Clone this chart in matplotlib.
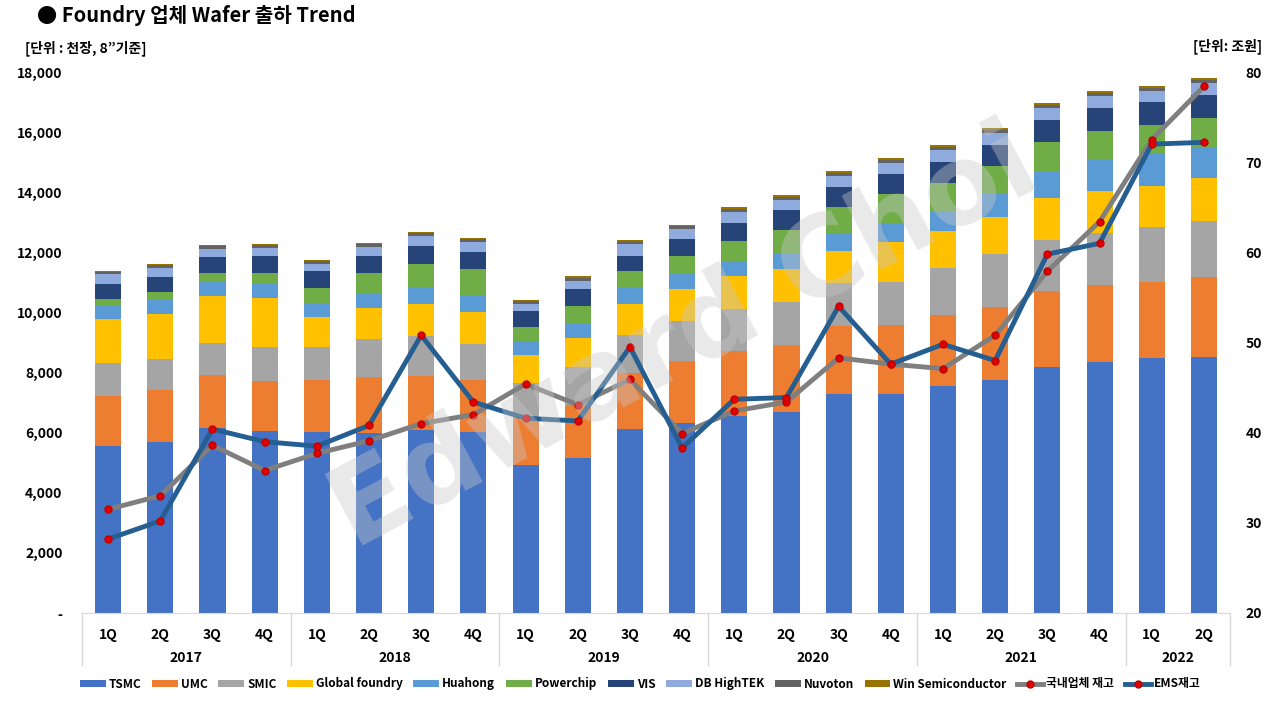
import matplotlib
matplotlib.use("Agg")
import matplotlib.pyplot as plt
from matplotlib.lines import Line2D
from matplotlib.patches import Patch
import numpy as np

plt.rcParams['font.family'] = ['Noto Sans CJK KR', 'DejaVu Sans']

# quarters 2017 1Q ~ 2022 2Q
quarters = ["1Q", "2Q", "3Q", "4Q"] * 5 + ["1Q", "2Q"]
years = ["2017", "2018", "2019", "2020", "2021", "2022"]
year_counts = [4, 4, 4, 4, 4, 2]

# wafer shipments, thousand sheets (8" equivalent)
tsmc = [5556, 5689, 6155, 6055, 6033, 6000, 6088, 6012, 4924, 5168, 6122,
        6332, 6564, 6697, 7296, 7296, 7552, 7752, 8191, 8347, 8487, 8524]
umc = [1674, 1730, 1774, 1664, 1719, 1863, 1797, 1740, 1553, 1752, 1852,
       2052, 2163, 2229, 2263, 2296, 2373, 2435, 2519, 2566, 2522, 2661]
smic = [1088, 1032, 1043, 1131, 1098, 1253, 1341, 1198, 1186, 1254, 1275,
        1331, 1387, 1421, 1420, 1430, 1564, 1760, 1700, 1723, 1830, 1854]
gf = [1463, 1497, 1575, 1630, 1009, 1031, 1054, 1064, 921, 986, 1031,
      1075, 1108, 1098, 1075, 1331, 1230, 1235, 1400, 1401, 1364, 1437]
huahong = [433, 466, 465, 489, 444, 490, 533, 533, 432, 478, 533,
           489, 456, 522, 589, 632, 655, 762, 882, 1034, 1071, 1024]
powerchip = [233, 266, 300, 343, 510, 675, 798, 898, 499, 576, 577,
             609, 709, 775, 875, 955, 942, 924, 975, 962, 962, 972]
vis = [509, 499, 532, 565, 577, 565, 610, 576, 533, 555, 498,
       555, 598, 676, 665, 666, 699, 702, 735, 772, 762, 762]
dbhitek = [312, 310, 277, 267, 232, 300, 322, 322, 243, 287, 378,
           333, 356, 333, 356, 376, 399, 416, 416, 406, 379, 402]
nuvoton = [88, 78, 89, 89, 89, 89, 89, 89, 79, 89, 88,
           89, 100, 100, 111, 100, 100, 83, 83, 83, 94, 97]
winsemi = [34, 44, 44, 44, 44, 44, 44, 44, 44, 56, 45,
           44, 56, 56, 55, 56, 56, 70, 70, 70, 72, 57]

# inventories, trillion won (right axis)
domestic_inv = [31.5, 33.0, 38.6, 35.8, 37.7, 39.1, 41.0, 42.0, 45.4, 43.1, 45.9,
                39.9, 42.4, 43.4, 48.3, 47.6, 47.1, 50.8, 57.9, 63.4, 72.5, 78.4]
ems_inv = [28.2, 30.2, 40.4, 39.0, 38.5, 40.8, 50.8, 43.4, 41.6, 41.3, 49.5,
           38.3, 43.7, 43.9, 54.0, 47.6, 49.8, 48.0, 59.8, 61.0, 72.0, 72.2]

series = [
    ("TSMC", tsmc, "#4472C4"),
    ("UMC", umc, "#ED7D31"),
    ("SMIC", smic, "#A5A5A5"),
    ("Global foundry", gf, "#FFC000"),
    ("Huahong", huahong, "#5B9BD5"),
    ("Powerchip", powerchip, "#70AD47"),
    ("VIS", vis, "#264478"),
    ("DB HighTEK", dbhitek, "#8FAADC"),
    ("Nuvoton", nuvoton, "#636363"),
    ("Win Semiconductor", winsemi, "#997300"),
]

fig = plt.figure(figsize=(12.8, 7.2), dpi=100)
ax = fig.add_axes([82 / 1280, 1 - 613 / 720, 1148 / 1280, 541 / 720])
x = np.arange(len(quarters))

bottom = np.zeros(len(quarters))
handles = []
for name, vals, col in series:
    ax.bar(x, vals, width=0.5, bottom=bottom, color=col, zorder=2)
    bottom += np.array(vals)
    handles.append(Patch(facecolor=col, label=name))

ax.set_xlim(-0.5, len(quarters) - 0.5)
ax.set_ylim(0, 18000)
ax.set_yticks(range(0, 18001, 2000))
ax.set_yticklabels(["-" if v == 0 else f"{v:,}" for v in range(0, 18001, 2000)],
                   fontsize=10, fontweight="bold")
ax.set_xticks(x)
ax.set_xticklabels(quarters, fontsize=10, fontweight="bold")
ax.tick_params(axis="x", length=0, pad=11)
ax.tick_params(axis="y", length=0, pad=14)
for s in ["top", "left", "right"]:
    ax.spines[s].set_visible(False)
ax.spines["bottom"].set_color("#D9D9D9")

# year labels and separators
trans = ax.get_xaxis_transform()
start = 0
bounds = [-0.5]
for yr, n in zip(years, year_counts):
    ax.text(start + (n - 1) / 2, -0.083, yr, transform=trans, ha="center",
            va="center", fontsize=10, fontweight="bold")
    start += n
    bounds.append(start - 0.5)
for b in bounds:
    ax.add_line(Line2D([b, b], [0, -0.096], transform=trans, color="#D9D9D9",
                       lw=1, clip_on=False))

ax2 = ax.twinx()
ax2.set_ylim(20, 80)
ax2.set_yticks(range(20, 81, 10))
ax2.tick_params(axis="y", length=0, pad=11, labelsize=10)
for lab in ax2.get_yticklabels():
    lab.set_fontweight("bold")
for s in ax2.spines.values():
    s.set_visible(False)

ax2.plot(x, domestic_inv, color="#7F7F7F", lw=3.5, marker="o", ms=5,
         mfc="#E00000", mec="#C00000", zorder=3, label="국내업체 재고")
ax2.plot(x, ems_inv, color="#255E91", lw=3.5, marker="o", ms=5,
         mfc="#E00000", mec="#C00000", zorder=4, label="EMS재고")
handles.append(Line2D([], [], color="#7F7F7F", lw=3.5, marker="o", ms=5,
                      mfc="#E00000", mec="#C00000", label="국내업체 재고"))
handles.append(Line2D([], [], color="#255E91", lw=3.5, marker="o", ms=5,
                      mfc="#E00000", mec="#C00000", label="EMS재고"))

fig.legend(handles=handles, loc="center", bbox_to_anchor=(0.5, 1 - 684 / 720),
           ncol=12, frameon=False, handlelength=2.2,
           handleheight=0.6, handletextpad=0.25, columnspacing=0.9,
           prop={"weight": "bold", "size": 8.5})

fig.text(37 / 1280, 1 - 16 / 720, "● Foundry 업체 Wafer 출하 Trend",
         fontsize=14.5, fontweight="bold", va="center", ha="left")
fig.text(25 / 1280, 1 - 48 / 720, "[단위 : 천장, 8”기준]", fontsize=10,
         fontweight="bold", va="center", ha="left")
fig.text(1262 / 1280, 1 - 46 / 720, "[단위: 조원]", fontsize=10,
         fontweight="bold", va="center", ha="right")

# watermark
fig.text(685 / 1280, 1 - 340 / 720, "Edward Choi", fontsize=80,
         fontweight="bold", color="#C8C8C8", alpha=0.4, rotation=28,
         ha="center", va="center", zorder=10,
         family=["DejaVu Sans"])

fig.savefig("out.png", dpi=100)
